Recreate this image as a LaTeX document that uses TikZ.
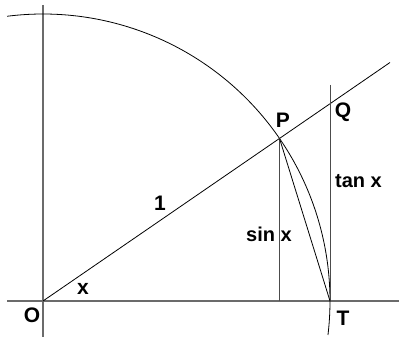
\documentclass[tikz,border=0pt]{standalone}
\usepackage{fontspec}
\setmainfont{Liberation Sans}
\usetikzlibrary{calc}
\begin{document}
\begin{tikzpicture}[x=1pt,y=1pt,
  axis/.style={draw=black!58, line width=1.6pt},
  thin/.style={draw=black, line width=0.8pt},
  grayline/.style={draw=black!70, line width=1pt},
  lbl/.style={font=\fontsize{21}{21}\selectfont\bfseries, inner sep=0pt},
  trig/.style={font=\fontsize{20}{20}\selectfont\bfseries, inner sep=0pt}]
\useasboundingbox (0,0) rectangle (399,337);
% key points
\coordinate (O) at (43,36);
\coordinate (T) at (330,36);
\coordinate (P) at ($(O)+(34.5:287)$);
\coordinate (Q) at (330,233.3);
\coordinate (E) at (390,274.5);
\coordinate (Ytop) at (43,332);
\coordinate (Ybot) at (43,0);
\coordinate (Xl) at (7,36);
\coordinate (Xr) at (399,36);
\coordinate (Qtop) at (330,252);
\coordinate (S) at (P |- O);
% axes
\draw[axis] (Ytop) -- (Ybot);
\draw[axis] (Xl) -- (Xr);
% arc
\draw[thin] ($(O)+(97.2:287)$) arc[start angle=97.2, end angle=-6.8, radius=287];
% ray O through P
\draw[thin] (O) -- (E);
% sin line
\draw[grayline] (P) -- (S);
% tangent line
\draw[grayline] (Qtop) -- (T);
% chord
\draw[thin] (P) -- (T);
% labels
\node[lbl] (lP) at (283,217) {P};
\node[lbl] (lQ) at (343,225) {Q};
\node[lbl] (l1) at (160,134) {1};
\node[lbl] (lx) at (83,48) {x};
\node[lbl] (lO) at (32,22) {O};
\node[lbl] (lT) at (343,19) {T};
\node[trig] (ls) at (269,102.5) {sin x};
\node[trig] (lt) at (358.5,155.5) {tan x};
\end{tikzpicture}
\end{document}
